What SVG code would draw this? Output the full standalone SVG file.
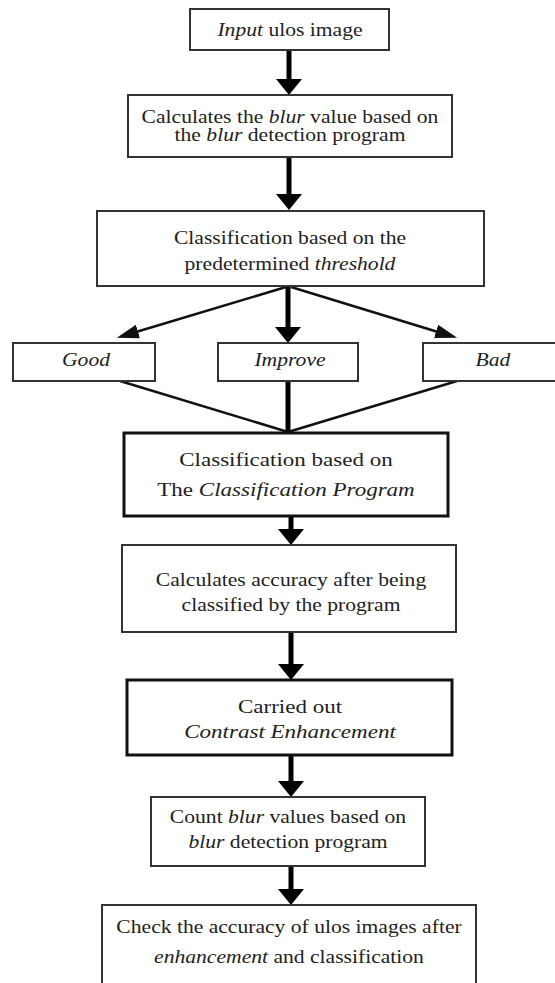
<svg xmlns="http://www.w3.org/2000/svg" width="555" height="983" viewBox="0 0 555 983">
<style>
.t{font-family:"Liberation Serif","Times New Roman",serif;font-size:18px;fill:#1e1e1e;text-anchor:middle}
.i{font-style:italic}
.box{fill:#fff;stroke:#333;stroke-width:2}
.boxb{fill:#fff;stroke:#111;stroke-width:3}
.shaft{stroke:#000;stroke-width:5;fill:none}
.thin{stroke:#111;stroke-width:2.5;fill:none}
.join{stroke:#111;stroke-width:2.5;fill:none}
</style>
<defs>
<marker id="ah" markerUnits="userSpaceOnUse" viewBox="0 0 16 26" refX="2" refY="13" markerWidth="16" markerHeight="26" orient="auto">
<path d="M0,0 L16,13 L0,26 Z" fill="#000"/>
</marker>
<marker id="ahs" markerUnits="userSpaceOnUse" viewBox="0 0 22 14" refX="2" refY="7" markerWidth="22" markerHeight="14" orient="auto">
<path d="M0,0 L22,7 L0,14 Z" fill="#111"/>
</marker>
</defs>

<g id="connectors">
<line class="shaft" x1="289" y1="50" x2="289" y2="81" marker-end="url(#ah)"/>
<line class="shaft" x1="289" y1="157" x2="289" y2="196" marker-end="url(#ah)"/>
<line class="shaft" x1="288" y1="286" x2="288" y2="329" marker-end="url(#ah)"/>
<line class="thin" x1="286" y1="287" x2="136" y2="332" marker-end="url(#ahs)"/>
<line class="thin" x1="291" y1="287" x2="438" y2="332" marker-end="url(#ahs)"/>
<line class="join" x1="120" y1="381" x2="288" y2="432"/>
<line class="join" x1="457" y1="381" x2="288" y2="432"/>
<line class="shaft" x1="288" y1="381" x2="288" y2="433"/>
<line class="shaft" x1="291" y1="516" x2="291" y2="531" marker-end="url(#ah)"/>
<line class="shaft" x1="291" y1="632" x2="291" y2="666" marker-end="url(#ah)"/>
<line class="shaft" x1="291" y1="755" x2="291" y2="783" marker-end="url(#ah)"/>
<line class="shaft" x1="291" y1="866" x2="291" y2="891" marker-end="url(#ah)"/>
</g>

<g id="n1">
<rect class="box" x="190" y="9" width="199" height="41"/>
<text class="t" transform="translate(290,36) scale(1.2,1)"><tspan class="i">Input</tspan> ulos image</text>
</g>

<g id="n2">
<rect class="box" x="128" y="95" width="324" height="62"/>
<text class="t" transform="translate(290,123) scale(1.2,1)">Calculates the <tspan class="i">blur</tspan> value based on</text>
<text class="t" transform="translate(290,141) scale(1.2,1)">the <tspan class="i">blur</tspan> detection program</text>
</g>

<g id="n3">
<rect class="box" x="97" y="211" width="387" height="75"/>
<text class="t" transform="translate(290,244) scale(1.2,1)">Classification based on the</text>
<text class="t" transform="translate(290,270) scale(1.2,1)">predetermined <tspan class="i">threshold</tspan></text>
</g>

<g id="good">
<rect class="box" x="13" y="343" width="142" height="38"/>
<text class="t i" transform="translate(86,366) scale(1.2,1)">Good</text>
</g>

<g id="improve">
<rect class="box" x="218" y="343" width="140" height="38"/>
<text class="t i" transform="translate(290,366) scale(1.2,1)">Improve</text>
</g>

<g id="bad">
<rect class="box" x="423" y="343" width="140" height="38"/>
<text class="t i" transform="translate(493,366) scale(1.2,1)">Bad</text>
</g>

<g id="n4">
<rect class="boxb" x="124" y="433" width="324" height="83"/>
<text class="t" transform="translate(286,466) scale(1.28,1)">Classification based on</text>
<text class="t" transform="translate(286,496) scale(1.28,1)">The <tspan class="i">Classification Program</tspan></text>
</g>

<g id="n5">
<rect class="box" x="122" y="545" width="334" height="87"/>
<text class="t" transform="translate(291,586) scale(1.2,1)">Calculates accuracy after being</text>
<text class="t" transform="translate(291,611) scale(1.2,1)">classified by the program</text>
</g>

<g id="n6">
<rect class="boxb" x="127" y="680" width="325" height="75"/>
<text class="t" transform="translate(290,713) scale(1.28,1)">Carried out</text>
<text class="t i" transform="translate(290,738) scale(1.28,1)">Contrast Enhancement</text>
</g>

<g id="n7">
<rect class="box" x="151" y="797" width="274" height="69"/>
<text class="t" transform="translate(288,823) scale(1.2,1)">Count <tspan class="i">blur</tspan> values based on</text>
<text class="t" transform="translate(288,848) scale(1.2,1)"><tspan class="i">blur</tspan> detection program</text>
</g>

<g id="n8">
<rect class="box" x="102" y="905" width="374" height="90"/>
<text class="t" transform="translate(289,933) scale(1.2,1)">Check the accuracy of ulos images after</text>
<text class="t" transform="translate(289,963) scale(1.2,1)"><tspan class="i">enhancement</tspan> and classification</text>
</g>
</svg>
